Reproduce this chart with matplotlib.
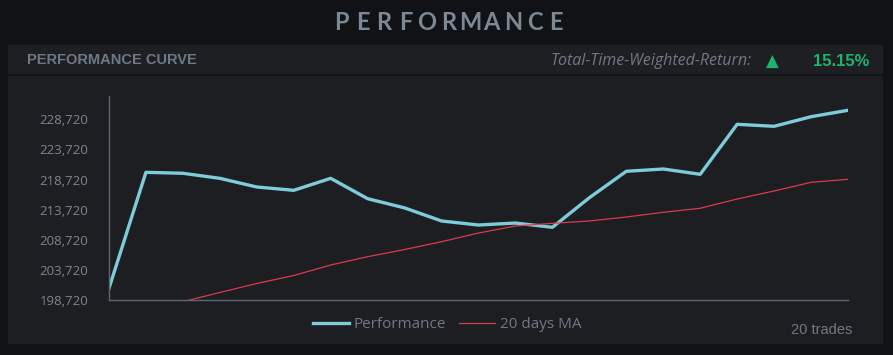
import numpy as np
import matplotlib
matplotlib.use('Agg')
import matplotlib.pyplot as plt
from matplotlib.patches import Rectangle
from matplotlib.ticker import FixedLocator, FuncFormatter

# Dados
trades = list(range(21))
performance = [200660, 219920, 219760, 218920, 217480, 216930, 218920, 215540,
               214010, 211840, 211170, 211500, 210790, 215700, 220090, 220470,
               219590, 227890, 227560, 229150, 230220]
media_movel = [np.nan, np.nan, 198440, 199965, 201460, 202790, 204530, 205910,
               207100, 208400, 209840, 211010, 211450, 211840, 212500, 213280,
               213950, 215490, 216820, 218260, 218760]
ticks_y = [198720, 203720, 208720, 213720, 218720, 223720, 228720]
titulo = "PERFORMANCE"
retorno_total = "15.15%"
n_trades = "20 trades"

# Cores
cor_fundo = '#111216'
cor_cabecalho = '#1e1f23'
cor_painel = '#1d1e22'
cor_texto = '#6f7986'
cor_perf = '#7ecbd9'
cor_ma = '#d93a52'
cor_verde = '#1db46e'

W, H = 893, 355
fig = plt.figure(figsize=(W / 100, H / 100), dpi=100)
fig.patch.set_facecolor(cor_fundo)


def px(x, y):
    """Converte pixels (origem no topo) para fração da figura"""
    return x / W, 1 - y / H


def retangulo(x0, y0, x1, y1, cor):
    fx, fy = px(x0, y1)
    fig.patches.append(Rectangle((fx, fy), (x1 - x0) / W, (y1 - y0) / H,
                                 transform=fig.transFigure, color=cor, zorder=-5))


retangulo(8, 45, 882, 73, cor_cabecalho)
retangulo(8, 76, 882, 343, cor_painel)

# Título com letras espaçadas
for i, letra in enumerate(titulo):
    fig.text(*px(341 + i * 21.5, 22), letra, ha='center', va='center',
             fontsize=17, color='#7d8895', family='Lato', fontweight='bold')

fig.text(*px(27, 60), "PERFORMANCE CURVE", ha='left', va='center',
         fontsize=10.5, color=cor_texto, family='Liberation Sans', fontweight='bold')
fig.text(*px(752, 61), "Total-Time-Weighted-Return:", ha='right', va='center',
         fontsize=11.5, color=cor_texto, family='Open Sans', style='italic')
fig.text(*px(772, 61.5), "\u25B2", ha='center', va='center',
         fontsize=12, color=cor_verde, family='DejaVu Sans')
fig.text(*px(869, 61), retorno_total, ha='right', va='center',
         fontsize=12, color=cor_verde, family='Liberation Sans', fontweight='bold')
fig.text(*px(852, 330), n_trades, ha='right', va='center',
         fontsize=10.5, color=cor_texto, family='Liberation Sans')

# Eixos do gráfico
ax = fig.add_axes([109 / W, 1 - 300 / H, (848 - 109) / W, (300 - 96) / H])
ax.set_zorder(3)
ax.patch.set_alpha(0)
ax.plot(trades, performance, color=cor_perf, linewidth=2.4, label='Performance')
ax.plot(trades, media_movel, color=cor_ma, linewidth=0.9, label='20 days MA')
ax.set_xlim(0, 20)
ax.set_ylim(198720, 232590)
ax.yaxis.set_major_locator(FixedLocator(ticks_y))
ax.yaxis.set_major_formatter(FuncFormatter(lambda v, p: f"{v:,.0f}"))
ax.set_xticks([])
ax.tick_params(axis='y', length=0, pad=15, labelsize=9.5, labelcolor='#7c8591')
for rotulo in ax.get_yticklabels():
    rotulo.set_family('Open Sans')
for lado in ['top', 'right']:
    ax.spines[lado].set_visible(False)
for lado in ['left', 'bottom']:
    ax.spines[lado].set_color('#5e6672')
    ax.spines[lado].set_linewidth(1)

leg = ax.legend(loc='center', bbox_to_anchor=px(447, 325),
                bbox_transform=fig.transFigure, ncol=2, frameon=False,
                handlelength=2.4, handletextpad=0.3, columnspacing=0.8,
                prop={'family': 'Open Sans', 'size': 11})
for t in leg.get_texts():
    t.set_color(cor_texto)

fig.savefig('out.png', dpi=100, facecolor=cor_fundo)
